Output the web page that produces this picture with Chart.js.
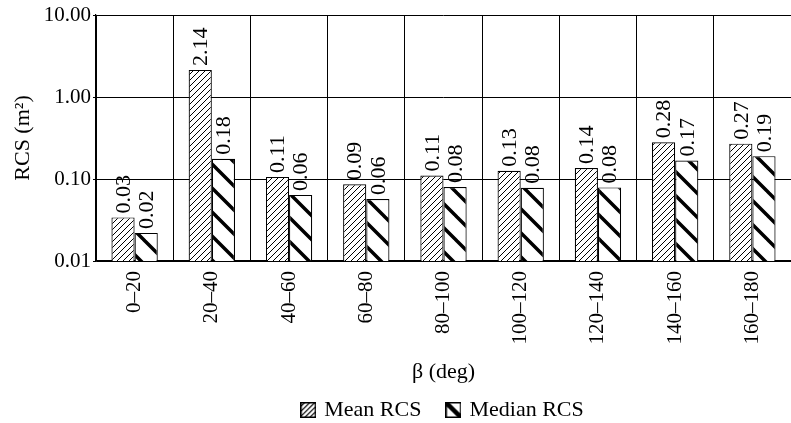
<!DOCTYPE html>
<html>
<head>
<meta charset="utf-8">
<script src="https://cdn.jsdelivr.net/npm/chart.js@4"></script>
<style>
  html, body { margin: 0; padding: 0; background: #fff; }
  #wrap { width: 791px; height: 423px; }
</style>
</head>
<body>
<div id="wrap"><canvas id="rcs_chart" width="791" height="423"></canvas></div>
<script>
var categories = ['0–20', '20–40', '40–60', '60–80', '80–100', '100–120', '120–140', '140–160', '160–180'];
var meanRcs = [0.034, 2.14, 0.106, 0.086, 0.11, 0.126, 0.136, 0.28, 0.27];
var medianRcs = [0.022, 0.176, 0.064, 0.057, 0.08, 0.078, 0.079, 0.168, 0.19];
var yTicks = [0.01, 0.1, 1, 10];

var FONT = '"Liberation Serif", "DejaVu Serif", serif';

// hatch fills
function makeHatch(size, lineWidth, back) {
    var c = document.createElement('canvas');
    c.width = size; c.height = size;
    var ctx = c.getContext('2d');
    ctx.fillStyle = '#fff';
    ctx.fillRect(0, 0, size, size);
    ctx.strokeStyle = '#000';
    ctx.lineWidth = lineWidth;
    ctx.beginPath();
    for (var k = -1; k <= 1; k++) {
        if (back) {
            ctx.moveTo(k * size - 1, -1);
            ctx.lineTo(k * size + size + 1, size + 1);
        } else {
            ctx.moveTo(k * size - 1, size + 1);
            ctx.lineTo(k * size + size + 1, -1);
        }
    }
    ctx.stroke();
    return c.getContext('2d').createPattern(c, 'repeat');
}

function makeLegendIcon(back) {
    var s = 16;
    var c = document.createElement('canvas');
    c.width = s; c.height = s;
    var ctx = c.getContext('2d');
    ctx.fillStyle = '#fff';
    ctx.fillRect(0, 0, s, s);
    ctx.save();
    ctx.beginPath();
    ctx.rect(0, 0, s, s);
    ctx.clip();
    ctx.strokeStyle = '#000';
    if (back) {
        ctx.lineWidth = 4.5;
        ctx.beginPath();
        ctx.moveTo(0, 0); ctx.lineTo(s, s);
        ctx.stroke();
    } else {
        ctx.lineWidth = 1.2;
        ctx.beginPath();
        for (var d = -s; d <= s; d += 5) {
            ctx.moveTo(d, s); ctx.lineTo(d + s, 0);
        }
        ctx.stroke();
    }
    ctx.restore();
    ctx.lineWidth = 1.5;
    ctx.strokeRect(0.75, 0.75, s - 1.5, s - 1.5);
    return c;
}

var meanFill = makeHatch(6, 1, false);
var medianFill = makeHatch(24, 3.5, true);
var legendIcons = [makeLegendIcon(false), makeLegendIcon(true)];

// rotated value labels above each bar
var valueLabels = {
    id: 'valueLabels',
    afterDatasetsDraw: function(chart) {
        var ctx = chart.ctx;
        ctx.save();
        ctx.fillStyle = '#000';
        ctx.font = '22px ' + FONT;
        ctx.textAlign = 'left';
        ctx.textBaseline = 'middle';
        chart.data.datasets.forEach(function(ds, i) {
            var meta = chart.getDatasetMeta(i);
            meta.data.forEach(function(bar, j) {
                ctx.save();
                ctx.translate(bar.x + 1, bar.y - 4);
                ctx.rotate(-Math.PI / 2);
                ctx.fillText(ds.data[j].toFixed(2), 0, 0);
                ctx.restore();
            });
        });
        ctx.restore();
    }
};

var rcsChart = new Chart(document.getElementById('rcs_chart').getContext('2d'), {
    type: 'bar',
    data: {
        labels: categories,
        datasets: [{
            label: 'Mean RCS',
            data: meanRcs,
            backgroundColor: meanFill,
            borderColor: '#000',
            borderWidth: 1.2,
            categoryPercentage: 0.6,
            barPercentage: 1.0
        }, {
            label: 'Median RCS',
            data: medianRcs,
            backgroundColor: medianFill,
            borderColor: '#000',
            borderWidth: 1.2,
            categoryPercentage: 0.6,
            barPercentage: 1.0
        }]
    },
    options: {
        responsive: false,
        animation: false,
        layout: { padding: { top: 15, right: 0, left: 0, bottom: -8 } },
        plugins: {
            tooltip: { enabled: false },
            legend: {
                position: 'bottom',
                fullSize: false,
                labels: {
                    color: '#000',
                    font: { family: FONT, size: 22 },
                    usePointStyle: true,
                    pointStyleWidth: 10,
                    padding: 5,
                    generateLabels: function(chart) {
                        return chart.data.datasets.map(function(ds, i) {
                            return {
                                // trailing spaces widen the gap between the two items
                                text: i === 0 ? ds.label + '    ' : ds.label,
                                pointStyle: legendIcons[i],
                                datasetIndex: i,
                                fontColor: '#000',
                                lineWidth: 0,
                                hidden: false
                            };
                        });
                    }
                }
            }
        },
        scales: {
            x: {
                grid: { color: '#000', lineWidth: 1, drawTicks: false, offset: true },
                border: { color: '#000', width: 1.2 },
                ticks: {
                    color: '#000',
                    font: { family: FONT, size: 21 },
                    minRotation: 90,
                    maxRotation: 90,
                    padding: 10
                },
                title: {
                    display: true,
                    text: 'β (deg)',
                    color: '#000',
                    font: { family: FONT, size: 22 },
                    padding: { top: 6, bottom: 9 }
                },
                afterFit: function(scale) { scale.height = 133; }
            },
            y: {
                type: 'logarithmic',
                min: 0.01,
                max: 10,
                afterBuildTicks: function(scale) {
                    scale.ticks = yTicks.map(function(v) { return { value: v }; });
                },
                grid: { color: '#000', lineWidth: 1, tickLength: 3 },
                border: { color: '#000', width: 1.2 },
                ticks: {
                    color: '#000',
                    font: { family: FONT, size: 21 },
                    padding: 2,
                    callback: function(v) { return Number(v).toFixed(2); }
                },
                title: {
                    display: true,
                    text: 'RCS (m²)',
                    color: '#000',
                    font: { family: FONT, size: 22 },
                    padding: { top: 10, bottom: 6 }
                },
                afterFit: function(scale) { scale.width = 96; }
            }
        }
    },
    plugins: [valueLabels]
});
</script>
</body>
</html>
